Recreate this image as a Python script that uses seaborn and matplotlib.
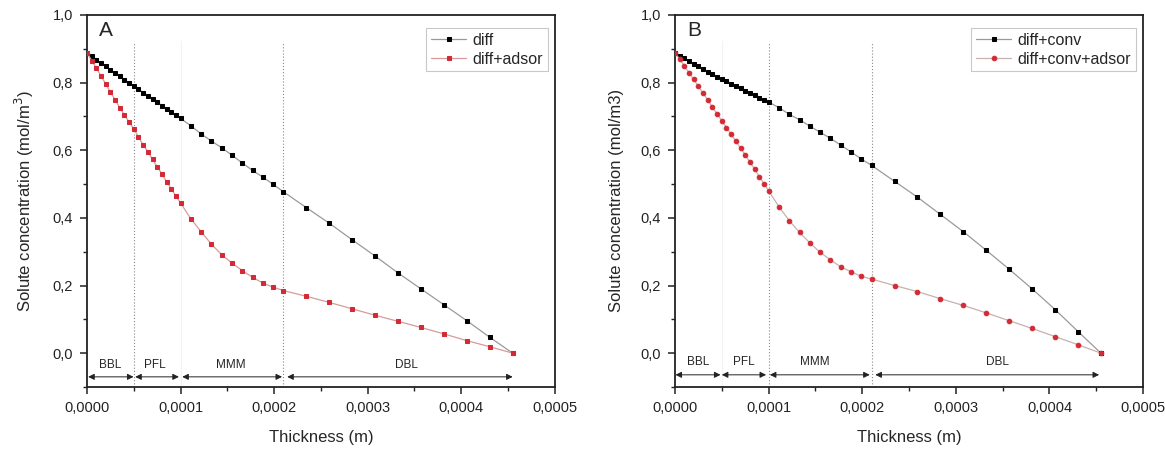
import matplotlib
matplotlib.use("Agg")
import matplotlib.pyplot as plt
import matplotlib.ticker as mticker
import seaborn as sns
import pandas as pd

# thickness grid in micrometres (same grid for every series)
thickness_um = [0, 5, 10, 15, 20, 25, 30, 35, 40, 45, 50, 55, 60, 65, 70, 75, 80, 85, 90, 95, 100,
                111, 122, 133, 144, 155, 166, 177, 188, 199, 210,
                234.5, 259, 283.5, 308, 332.5, 357, 381.5, 406, 430.5, 455]

# panel A
diff = [0.887, 0.877, 0.867, 0.857, 0.848, 0.838, 0.828, 0.818, 0.808, 0.799, 0.789,
        0.780, 0.770, 0.761, 0.751, 0.742, 0.732, 0.722, 0.713, 0.703, 0.694,
        0.672, 0.648, 0.627, 0.607, 0.585, 0.562, 0.540, 0.520, 0.499, 0.477,
        0.430, 0.384, 0.335, 0.287, 0.237, 0.190, 0.143, 0.096, 0.047, 0.0]
diff_adsor = [0.887, 0.865, 0.842, 0.820, 0.795, 0.772, 0.749, 0.726, 0.704, 0.683, 0.663,
              0.639, 0.616, 0.595, 0.573, 0.551, 0.530, 0.507, 0.486, 0.464, 0.444,
              0.397, 0.359, 0.322, 0.291, 0.266, 0.244, 0.224, 0.207, 0.195, 0.185,
              0.168, 0.150, 0.131, 0.112, 0.094, 0.076, 0.057, 0.037, 0.019, 0.0]

# panel B
diff_conv = [0.887, 0.879, 0.871, 0.863, 0.856, 0.848, 0.840, 0.832, 0.825, 0.817, 0.810,
             0.803, 0.796, 0.789, 0.783, 0.776, 0.769, 0.762, 0.755, 0.749, 0.742,
             0.726, 0.706, 0.690, 0.671, 0.653, 0.635, 0.615, 0.595, 0.574, 0.555,
             0.508, 0.461, 0.410, 0.359, 0.304, 0.248, 0.190, 0.129, 0.064, 0.0]
diff_conv_adsor = [0.887, 0.869, 0.849, 0.828, 0.809, 0.789, 0.768, 0.748, 0.727, 0.707, 0.687,
                   0.667, 0.647, 0.626, 0.606, 0.586, 0.565, 0.544, 0.522, 0.501, 0.480,
                   0.433, 0.392, 0.357, 0.326, 0.298, 0.276, 0.255, 0.241, 0.227, 0.219,
                   0.200, 0.182, 0.161, 0.141, 0.119, 0.096, 0.073, 0.049, 0.025, 0.0]

# layers (boundaries in m)
layer_names = ["BBL", "PFL", "MMM", "DBL"]
layer_edges_a = [(0.0000012, 0.0000497), (0.0000515, 0.0000982), (0.0001018, 0.0002085), (0.000214, 0.000455)]
layer_edges_b = [(0.0000005, 0.0000486), (0.00005, 0.0000973), (0.0001013, 0.000208), (0.000214, 0.000453)]
label_x_a = [0.0000247, 0.0000725, 0.000154, 0.000341]
label_x_b = [0.0000247, 0.0000738, 0.000149, 0.000344]
dotted_a = [0.00005, 0.00021]
dotted_b = [0.0001, 0.00021]
faint_a = [0.0001]
faint_b = [0.00005]

sns.set_style("ticks")
plt.rcParams["font.family"] = ["Liberation Sans", "DejaVu Sans"]

x_m = [v * 1e-6 for v in thickness_um]
df = pd.DataFrame({"t": x_m, "diff": diff, "diff+adsor": diff_adsor,
                   "diff+conv": diff_conv, "diff+conv+adsor": diff_conv_adsor})

fig = plt.figure(figsize=(11.65, 4.5), dpi=100)
ax_a = fig.add_axes([0.0747, 0.14, 0.4015, 0.827])
ax_b = fig.add_axes([0.5794, 0.14, 0.4018, 0.827])

red = "#d42a35"


def draw_panel(ax, black_col, red_col, red_marker, red_line, letter, ylabel,
               edges, label_x, dotted, faint, label_y, arrow_y):
    for x in faint:
        ax.axvline(x, ymin=0, ymax=0.93, color="#f3f3f3", lw=0.8, zorder=0)
    for x in dotted:
        ax.vlines(x, -0.1, 0.92, colors="#888888", linestyles=(0, (1, 1.8)), lw=0.8, zorder=1)

    sns.lineplot(data=df, x="t", y=black_col, ax=ax, estimator=None, sort=False,
                 color="#9a9a9a", lw=0.9, marker="s", markersize=2.9,
                 markerfacecolor="black", markeredgecolor="black", label=black_col, zorder=3)
    sns.lineplot(data=df, x="t", y=red_col, ax=ax, estimator=None, sort=False,
                 color=red_line, lw=0.9, marker=red_marker, markersize=3.3,
                 markerfacecolor=red, markeredgecolor=red, label=red_col, zorder=4)

    for (x0, x1), name, lx in zip(edges, layer_names, label_x):
        ax.annotate("", xy=(x1, arrow_y), xytext=(x0, arrow_y),
                    arrowprops=dict(arrowstyle="<|-|>", color="#222222", lw=0.7,
                                    mutation_scale=9, shrinkA=0, shrinkB=0))
        ax.text(lx, label_y, name, ha="center", va="center", fontsize=8.5)

    ax.text(0.000013, 0.955, letter, fontsize=15, ha="left", va="center")

    ax.set_xlim(0, 0.0005)
    ax.set_ylim(-0.1, 1.0)
    ax.xaxis.set_major_locator(mticker.MultipleLocator(0.0001))
    ax.xaxis.set_minor_locator(mticker.MultipleLocator(0.00005))
    ax.yaxis.set_major_locator(mticker.MultipleLocator(0.2))
    ax.yaxis.set_minor_locator(mticker.MultipleLocator(0.1))
    ax.xaxis.set_major_formatter(mticker.FuncFormatter(lambda v, p: f"{v:.4f}".replace(".", ",")))
    ax.yaxis.set_major_formatter(mticker.FuncFormatter(lambda v, p: f"{v:.1f}".replace(".", ",")))
    ax.tick_params(which="major", direction="out", length=5, width=1.1, labelsize=10.5,
                   colors="#222222", pad=5)
    ax.tick_params(which="minor", direction="out", length=3, width=1.0, colors="#222222")
    for s in ax.spines.values():
        s.set_visible(True)
        s.set_linewidth(1.3)
        s.set_color("#222222")
    ax.set_xlabel("Thickness (m)", fontsize=12, labelpad=11)
    ax.set_ylabel(ylabel, fontsize=12, labelpad=12)

    leg = ax.legend(loc="upper right", bbox_to_anchor=(0.985, 0.965), fontsize=11.5,
                    frameon=True, fancybox=False, handlelength=2.2, borderpad=0.3,
                    labelspacing=0.25, handletextpad=0.4, borderaxespad=0)
    leg.get_frame().set_edgecolor("#bbbbbb")
    leg.get_frame().set_linewidth(0.8)


draw_panel(ax_a, "diff", "diff+adsor", "s", "#d89a9a", "A",
           "Solute concentration (mol/m$^3$)", layer_edges_a, label_x_a,
           dotted_a, faint_a, -0.035, -0.07)
draw_panel(ax_b, "diff+conv", "diff+conv+adsor", "o", "#c8b0b0", "B",
           "Solute concentration (mol/m3)", layer_edges_b, label_x_b,
           dotted_b, faint_b, -0.025, -0.064)

fig.savefig("out.png", dpi=100)
